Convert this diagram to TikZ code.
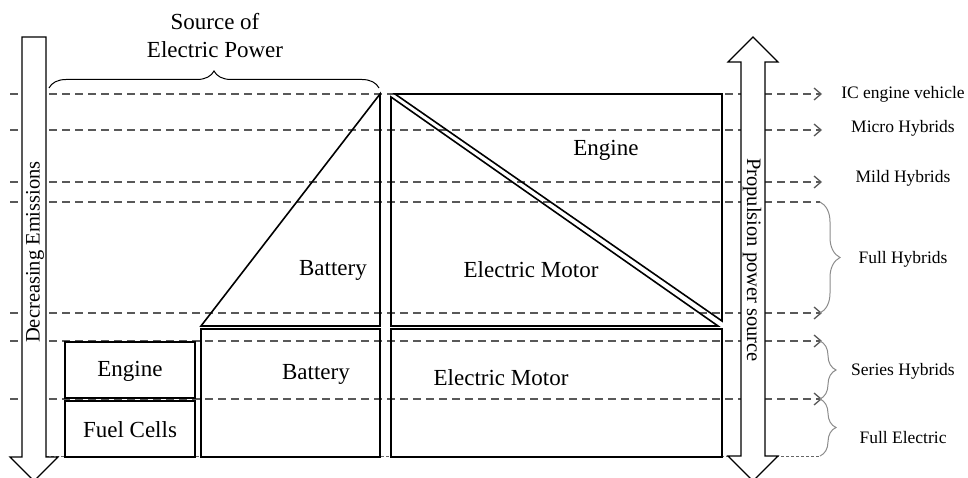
\documentclass[tikz,border=0pt]{standalone}
\usepackage{fontspec}
\setmainfont{Liberation Serif}
\usetikzlibrary{arrows.meta,decorations.pathreplacing}

\begin{document}
\begin{tikzpicture}[x=1pt,y=-1pt, every node/.style={align=center,inner sep=0pt,font=\fontsize{23}{28}\selectfont}, part/.style={draw,line width=1.6pt,line join=miter}, lvl/.style={draw=black!65,line width=1.4pt,dash pattern=on 8pt off 5pt}, lvlarr/.style={lvl,-{Straight Barb[length=7pt,width=12pt,line width=1.3pt]}}, base/.style={draw=black!60,line width=0.8pt,dash pattern=on 3pt off 2pt}, cls/.style={font=\fontsize{17.5}{20}\selectfont}, side/.style={font=\fontsize{20.5}{24}\selectfont}, grp/.style={draw=black!45,line width=1pt,decorate,decoration={brace,amplitude=#1}}, flow/.style={draw,fill=white,line width=1.2pt}]
  \useasboundingbox (0,0) rectangle (968,478);
  % vehicle classes
  \node[cls] (ice) at (903,94) {IC engine vehicle};
  \node[cls] (micro) at (903,128) {Micro Hybrids};
  \node[cls] (mild) at (903,178) {Mild Hybrids};
  \node[cls] (full) at (903,259) {Full Hybrids};
  \node[cls] (series) at (903,371) {Series Hybrids};
  \node[cls] (elec) at (903,438) {Full Electric};
  \coordinate (s1) at (10,94);  \coordinate (e1) at (822,94);
  \coordinate (s2) at (10,130); \coordinate (e2) at (822,130);
  \coordinate (s3) at (10,182); \coordinate (e3) at (822,182);
  \coordinate (s4) at (10,202); \coordinate (e4) at (820,202);
  \coordinate (s5) at (10,313); \coordinate (e5) at (822,313);
  \coordinate (s6) at (10,341); \coordinate (e6) at (822,341);
  \coordinate (s7) at (10,399); \coordinate (e7) at (822,399);
  \coordinate (s8) at (46,456); \coordinate (e8) at (820,456);
  \draw[lvlarr] (s1) -- (e1);
  \draw[lvlarr] (s2) -- (e2);
  \draw[lvlarr] (s3) -- (e3);
  \draw[lvl] (s4) -- (e4);
  \draw[lvlarr] (s5) -- (e5);
  \draw[lvlarr] (s6) -- (e6);
  \draw[lvlarr] (s7) -- (e7);
  \draw[base] (s8) -- (e8);
  \draw[grp=20pt] (e4) -- (820,313);
  \draw[grp=16pt] (820,341) -- (820,399);
  \draw[grp=16pt] (820,399) -- (e8);
  % power-source blocks
  \draw[part] (65,342) rectangle (195,398);
  \draw[part] (65,401) rectangle (195,457);
  \draw[part] (201,326) -- (380,94) -- (380,326) -- cycle;
  \draw[part] (201,329) rectangle (380,457);
  \draw[part] (395,94) -- (722,94) -- (722,321) -- cycle;
  \draw[part] (391,97) -- (391,326) -- (718,326) -- cycle;
  \draw[part] (391,329) rectangle (722,457);
  \node (engA) at (130,371) {Engine};
  \node (fuel) at (130,430) {Fuel Cells};
  \node (batA) at (333,270) {Battery};
  \node (batB) at (316,374) {Battery};
  \node (engB) at (606,150) {Engine};
  \node (motA) at (531,270) {Electric Motor};
  \node (motB) at (501,378) {Electric Motor};
  % source brace
  \coordinate (bl) at (49,88); \coordinate (br) at (379,88);
  \draw[grp=17pt,draw=black] (bl) -- (br);
  \node (src) at (215,36) {Source of\\Electric Power};
  % big arrows
  \draw[flow] (22,37) -- (46,37) -- (46,457) -- (58,457) -- (34,481) -- (10,457) -- (22,457) -- cycle;
  \draw[flow] (753,37) -- (778,62) -- (765,62) -- (765,456) -- (778,456) -- (753,481) -- (728,456) -- (741,456) -- (741,62) -- (728,62) -- cycle;
  \node[side,rotate=90] (dec) at (35,252) {Decreasing Emissions};
  \node[side,rotate=-90] (prop) at (752,260) {Propulsion power source};
\end{tikzpicture}
\end{document}
